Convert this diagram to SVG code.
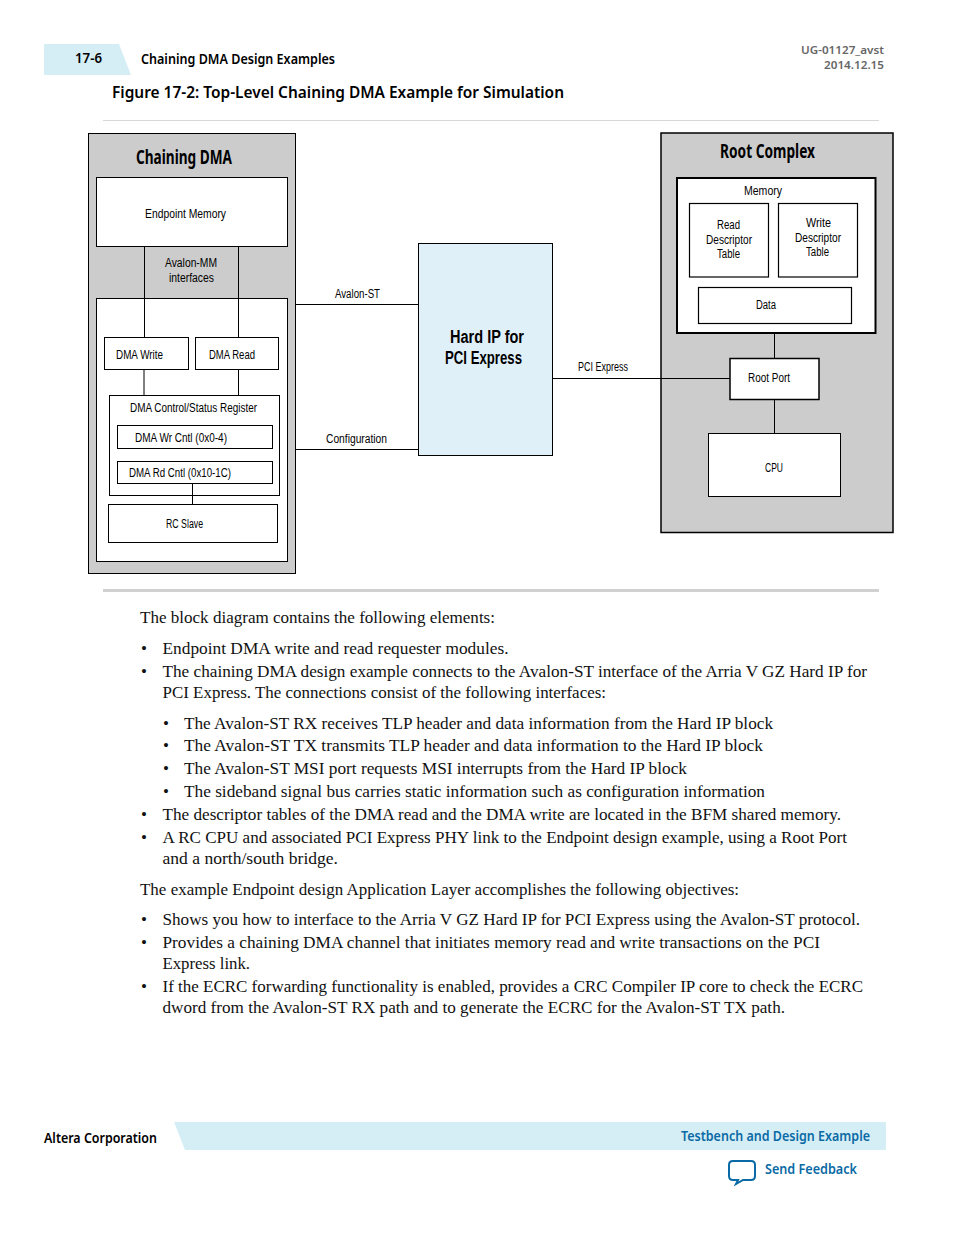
<svg xmlns="http://www.w3.org/2000/svg" width="954" height="1235" viewBox="0 0 954 1235">
<style>
.box{fill:#fff;stroke:#000;stroke-width:1}
.thick{fill:#fff;stroke:#000;stroke-width:2}
.gray{fill:#ccc;stroke:#000;stroke-width:1}
.line{fill:none;stroke:#000;stroke-width:1}
text{font-family:"Noto Sans","Open Sans","Liberation Sans",sans-serif;fill:#000}
.lab{font-family:"Liberation Sans",Arial,sans-serif;font-size:12.5px}
.title{font-size:20px;font-weight:700}
.hip{font-family:"Liberation Sans",Arial,sans-serif;font-size:17.5px;font-weight:700}
.head{font-size:13.5px;font-weight:600}
.body{font-family:"Liberation Serif","Times New Roman",serif;font-size:17px;fill:#111}
.blue{fill:#0a6aa5;font-weight:600;font-size:13.5px}
.meta{fill:#666;font-size:11.5px;font-weight:600}
</style>

<g id="page-header">
<path d="M44 44H119L131 75H44Z" fill="#d5eef6"/>
<text x="75" y="63" class="head" textLength="27" lengthAdjust="spacingAndGlyphs">17-6</text>
<text x="141" y="64" class="head" textLength="194" lengthAdjust="spacingAndGlyphs">Chaining DMA Design Examples</text>
<text x="801" y="54" class="meta" textLength="83" lengthAdjust="spacingAndGlyphs">UG-01127_avst</text>
<text x="824" y="69" class="meta" textLength="60" lengthAdjust="spacingAndGlyphs">2014.12.15</text>
<text x="112" y="98" font-size="16.5" font-weight="600" textLength="452" lengthAdjust="spacingAndGlyphs">Figure 17-2: Top-Level Chaining DMA Example for Simulation</text>
<rect x="103" y="120" width="776" height="1" fill="#d8d8d8"/>
</g>

<g id="chaining-dma"><rect class="gray" x="88.5" y="133.5" width="207" height="440"/>
<text x="136" y="164" class="title" textLength="96" lengthAdjust="spacingAndGlyphs">Chaining DMA</text></g>
<g id="endpoint-memory"><rect class="box" x="96.5" y="177.5" width="191" height="69"/>
<text x="145" y="218" class="lab" textLength="81" lengthAdjust="spacingAndGlyphs">Endpoint Memory</text></g>
<g id="avalon-mm">
<text x="165" y="267" class="lab" textLength="52" lengthAdjust="spacingAndGlyphs">Avalon-MM</text>
<text x="169" y="282" class="lab" textLength="45" lengthAdjust="spacingAndGlyphs">interfaces</text></g>
<g id="dma-inner"><rect class="box" x="96.5" y="298.5" width="191" height="263"/></g>
<g id="dma-write"><rect class="box" x="104.5" y="337.5" width="84" height="32"/>
<text x="116" y="359" class="lab" textLength="47" lengthAdjust="spacingAndGlyphs">DMA Write</text></g>
<g id="dma-read"><rect class="box" x="195.5" y="337.5" width="83" height="32"/>
<text x="209" y="359" class="lab" textLength="46" lengthAdjust="spacingAndGlyphs">DMA Read</text></g>
<g id="dma-csr"><rect class="box" x="109.5" y="395.5" width="170" height="100"/>
<text x="130" y="412" class="lab" textLength="127" lengthAdjust="spacingAndGlyphs">DMA Control/Status Register</text></g>
<g id="dma-wr-cntl"><rect class="box" x="117.5" y="425.5" width="155" height="23"/>
<text x="135" y="442" class="lab" textLength="92" lengthAdjust="spacingAndGlyphs">DMA Wr Cntl (0x0-4)</text></g>
<g id="dma-rd-cntl"><rect class="box" x="117.5" y="461.5" width="155" height="22"/>
<text x="129" y="477" class="lab" textLength="102" lengthAdjust="spacingAndGlyphs">DMA Rd Cntl (0x10-1C)</text></g>
<g id="rc-slave"><rect class="box" x="108.5" y="504.5" width="169" height="38"/>
<text x="166" y="528" class="lab" textLength="37" lengthAdjust="spacingAndGlyphs">RC Slave</text></g>

<g id="hard-ip"><rect x="418.5" y="243.5" width="134" height="212" fill="#e0f0f9" stroke="#000" stroke-width="1"/>
<text x="450" y="343" class="hip" textLength="74" lengthAdjust="spacingAndGlyphs">Hard IP for</text>
<text x="445" y="364" class="hip" textLength="77" lengthAdjust="spacingAndGlyphs">PCI Express</text></g>

<g id="root-complex"><rect x="661" y="133" width="232" height="399.5" fill="#ccc" stroke="#000" stroke-width="1.5"/>
<text x="720" y="158" class="title" textLength="95" lengthAdjust="spacingAndGlyphs">Root Complex</text></g>
<g id="memory"><rect class="thick" x="677" y="178" width="198.5" height="155"/>
<text x="744" y="195" class="lab" textLength="38" lengthAdjust="spacingAndGlyphs">Memory</text></g>
<g id="read-table"><rect x="689.5" y="203.5" width="79" height="73.5" fill="#fff" stroke="#000" stroke-width="1.2"/>
<text x="717" y="229" class="lab" textLength="23" lengthAdjust="spacingAndGlyphs">Read</text>
<text x="706" y="243.5" class="lab" textLength="46" lengthAdjust="spacingAndGlyphs">Descriptor</text>
<text x="717" y="258" class="lab" textLength="23" lengthAdjust="spacingAndGlyphs">Table</text></g>
<g id="write-table"><rect x="778.5" y="203.5" width="79" height="73.5" fill="#fff" stroke="#000" stroke-width="1.2"/>
<text x="806" y="227" class="lab" textLength="25" lengthAdjust="spacingAndGlyphs">Write</text>
<text x="795" y="241.5" class="lab" textLength="46" lengthAdjust="spacingAndGlyphs">Descriptor</text>
<text x="806" y="256" class="lab" textLength="23" lengthAdjust="spacingAndGlyphs">Table</text></g>
<g id="data"><rect x="698.5" y="287.5" width="153" height="36" fill="#fff" stroke="#000" stroke-width="1.2"/>
<text x="756" y="309" class="lab" textLength="20" lengthAdjust="spacingAndGlyphs">Data</text></g>
<g id="root-port"><rect x="730" y="358.5" width="89" height="41" fill="#fff" stroke="#000" stroke-width="1.5"/>
<text x="748" y="382" class="lab" textLength="42" lengthAdjust="spacingAndGlyphs">Root Port</text></g>
<g id="cpu"><rect class="box" x="708.5" y="433.5" width="132" height="63"/>
<text x="765" y="472" class="lab" textLength="18" lengthAdjust="spacingAndGlyphs">CPU</text></g>

<g id="connectors">
<path class="line" d="M144.5 246V337M238.5 246V337M144 369V395M238.5 369V395M192.5 483V504M296 304.5H418M296 449.5H418M553 378.5H730M774.5 333V358M774.5 399V433"/>
<text x="335" y="298" class="lab" textLength="45" lengthAdjust="spacingAndGlyphs">Avalon-ST</text>
<text x="326" y="443" class="lab" textLength="61" lengthAdjust="spacingAndGlyphs">Configuration</text>
<text x="578" y="371" class="lab" textLength="50" lengthAdjust="spacingAndGlyphs">PCI Express</text>
</g>

<rect x="103" y="589" width="776" height="3" fill="#d0d0d0"/>

<g id="body-text">
<text class="body" x="140" y="623" textLength="355" lengthAdjust="spacingAndGlyphs">The block diagram contains the following elements:</text>
<text class="body" x="141" y="654">•</text>
<text class="body" x="162.5" y="654" textLength="346" lengthAdjust="spacingAndGlyphs">Endpoint DMA write and read requester modules.</text>
<text class="body" x="141" y="677">•</text>
<text class="body" x="162.5" y="677" textLength="704.5" lengthAdjust="spacingAndGlyphs">The chaining DMA design example connects to the Avalon-ST interface of the Arria V GZ Hard IP for</text>
<text class="body" x="162.5" y="698" textLength="443.5" lengthAdjust="spacingAndGlyphs">PCI Express. The connections consist of the following interfaces:</text>
<text class="body" x="163" y="729">•</text>
<text class="body" x="184" y="729" textLength="589" lengthAdjust="spacingAndGlyphs">The Avalon-ST RX receives TLP header and data information from the Hard IP block</text>
<text class="body" x="163" y="751">•</text>
<text class="body" x="184" y="751" textLength="579" lengthAdjust="spacingAndGlyphs">The Avalon-ST TX transmits TLP header and data information to the Hard IP block</text>
<text class="body" x="163" y="774">•</text>
<text class="body" x="184" y="774" textLength="503" lengthAdjust="spacingAndGlyphs">The Avalon-ST MSI port requests MSI interrupts from the Hard IP block</text>
<text class="body" x="163" y="797">•</text>
<text class="body" x="184" y="797" textLength="581" lengthAdjust="spacingAndGlyphs">The sideband signal bus carries static information such as configuration information</text>
<text class="body" x="141" y="820">•</text>
<text class="body" x="162.5" y="820" textLength="678.5" lengthAdjust="spacingAndGlyphs">The descriptor tables of the DMA read and the DMA write are located in the BFM shared memory.</text>
<text class="body" x="141" y="843">•</text>
<text class="body" x="162.5" y="843" textLength="684.5" lengthAdjust="spacingAndGlyphs">A RC CPU and associated PCI Express PHY link to the Endpoint design example, using a Root Port</text>
<text class="body" x="162.5" y="864" textLength="175.5" lengthAdjust="spacingAndGlyphs">and a north/south bridge.</text>
<text class="body" x="140" y="895" textLength="599" lengthAdjust="spacingAndGlyphs">The example Endpoint design Application Layer accomplishes the following objectives:</text>
<text class="body" x="141" y="925">•</text>
<text class="body" x="162.5" y="925" textLength="697.5" lengthAdjust="spacingAndGlyphs">Shows you how to interface to the Arria V GZ Hard IP for PCI Express using the Avalon-ST protocol.</text>
<text class="body" x="141" y="948">•</text>
<text class="body" x="162.5" y="948" textLength="657.5" lengthAdjust="spacingAndGlyphs">Provides a chaining DMA channel that initiates memory read and write transactions on the PCI</text>
<text class="body" x="162.5" y="969" textLength="87.5" lengthAdjust="spacingAndGlyphs">Express link.</text>
<text class="body" x="141" y="992">•</text>
<text class="body" x="162.5" y="992" textLength="700.5" lengthAdjust="spacingAndGlyphs">If the ECRC forwarding functionality is enabled, provides a CRC Compiler IP core to check the ECRC</text>
<text class="body" x="162.5" y="1013" textLength="622.5" lengthAdjust="spacingAndGlyphs">dword from the Avalon-ST RX path and to generate the ECRC for the Avalon-ST TX path.</text>
</g>

<g id="page-footer">
<text x="44" y="1143" class="head" textLength="113" lengthAdjust="spacingAndGlyphs">Altera Corporation</text>
<path d="M174 1122H886V1150H185Z" fill="#d5eef6"/>
<text x="681" y="1141" class="blue" textLength="189" lengthAdjust="spacingAndGlyphs">Testbench and Design Example</text>
<path d="M733 1161H751Q755 1161 755 1165V1176Q755 1180 751 1180H743L736 1184L738 1180H733Q729 1180 729 1176V1165Q729 1161 733 1161Z" fill="none" stroke="#0a6aa5" stroke-width="2"/>
<text x="765" y="1174" class="blue" textLength="92" lengthAdjust="spacingAndGlyphs">Send Feedback</text>
</g>
</svg>
